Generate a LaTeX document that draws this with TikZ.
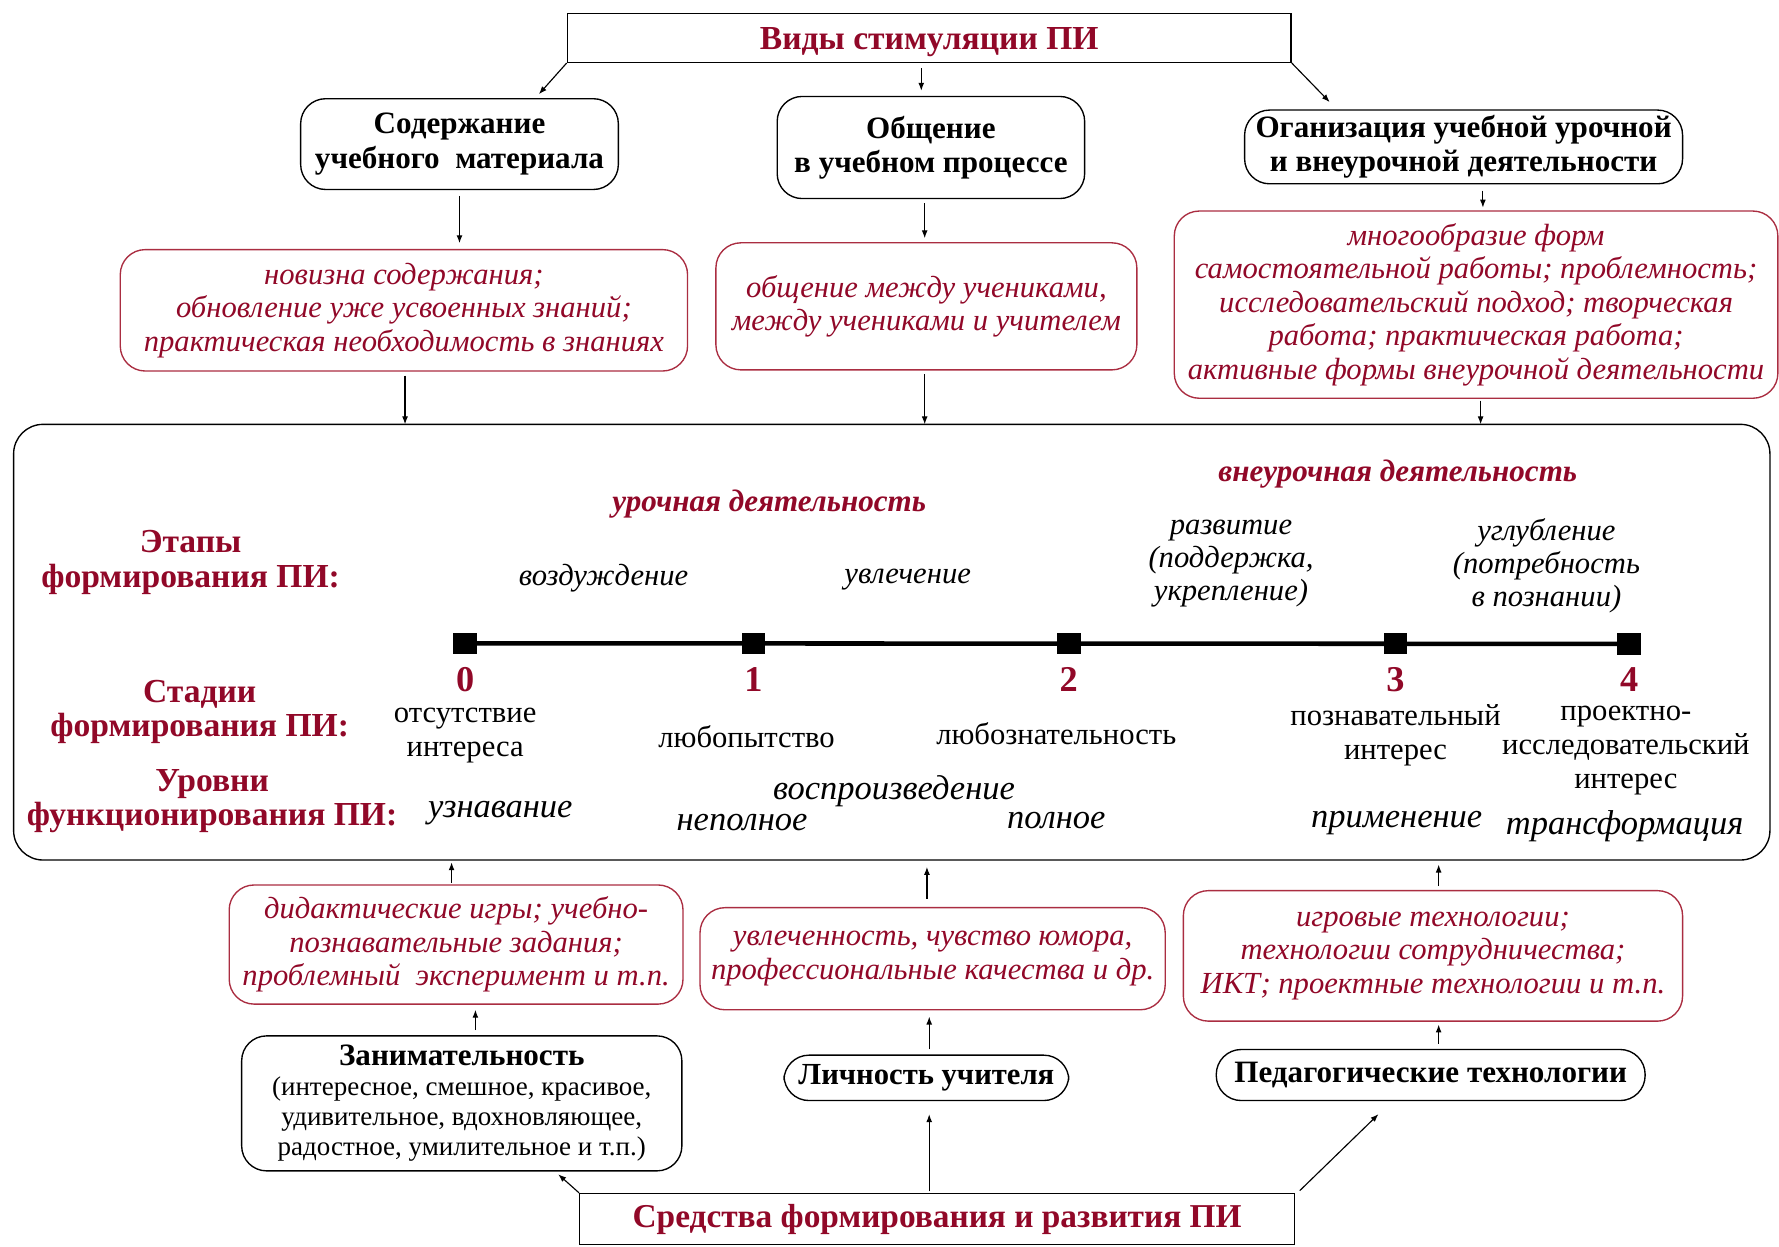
\documentclass[tikz,border=0pt]{standalone}
\usepackage{fontspec}
\setmainfont{Liberation Serif}
\usetikzlibrary{arrows.meta,calc}
\definecolor{dred}{RGB}{145,8,40}
\definecolor{bred}{RGB}{170,45,65}
\begin{document}
\begin{tikzpicture}[x=0.5pt,y=-0.5pt,
  arr/.style={-{Latex[length=3.5pt,width=2.6pt]},line width=0.5pt},
  blk/.style={draw=black,line width=0.6pt,rounded corners=11pt,inner sep=0pt,align=center,font=\fontsize{13.7}{15.2}\selectfont\bfseries},
  rbx/.style={draw=bred,line width=0.6pt,rounded corners=11pt,inner sep=0pt,align=center,text=dred,font=\fontsize{13.5}{14.8}\selectfont\itshape},
  ttl/.style={draw=black,line width=0.6pt,inner sep=0pt,text=dred,font=\fontsize{14.8}{18}\selectfont\bfseries},
  lbl/.style={text=dred,align=center,inner sep=0pt,font=\fontsize{14.8}{15.3}\selectfont\bfseries},
  itx/.style={align=center,inner sep=0pt,font=\fontsize{13.5}{14.6}\selectfont\itshape},
  itl/.style={align=center,inner sep=0pt,font=\fontsize{15.2}{16}\selectfont\itshape},
  rtx/.style={align=center,inner sep=0pt,font=\fontsize{13.5}{14.8}\selectfont},
  num/.style={text=dred,inner sep=0pt,font=\fontsize{16}{18}\selectfont\bfseries},
  act/.style={text=dred,inner sep=0pt,font=\fontsize{13.7}{16}\selectfont\bfseries\itshape},
  sq/.style={fill=black,draw=black,minimum width=10pt,minimum height=9pt,inner sep=0pt}]
\useasboundingbox (0,0) rectangle (1568,1099);

% top
\node[ttl,minimum width=319pt,minimum height=21.5pt,text height=9.8pt,text depth=0pt] (top) at (819,33.5) {Виды стимуляции ПИ};
\node[blk,minimum width=140pt,minimum height=40pt] (b1) at (405,127) {Содержание\\учебного\ \ материала};
\node[blk,minimum width=135.5pt,minimum height=45pt] (b2) at (820.5,130) {Общение\\в учебном процессе};
\node[blk,minimum width=193pt,minimum height=32.5pt] (b3) at (1290,129.5) {Оганизация учебной урочной\\и внеурочной деятельности};

\node[rbx,minimum width=250pt,minimum height=53.5pt] (r1) at (356,273.5) {новизна содержания;\\обновление уже усвоенных знаний;\\практическая необходимость в знаниях};
\node[rbx,minimum width=185.5pt,minimum height=56pt] (r2) at (816.5,270) {общение между учениками,\\между учениками и учителем};
\node[rbx,minimum width=266pt,minimum height=82.5pt] (r3) at (1301,268.5) {многообразие форм\\самостоятельной работы; проблемность;\\исследовательский подход; творческая\\работа; практическая работа;\\активные формы внеурочной деятельности};

\coordinate (t1) at (475,83);
\coordinate (t3) at (1172,90);
\draw[arr] (top.south west) -- (t1);
\draw[arr,shorten <=2.5pt,shorten >=2.5pt] (812,55) -- (812,85);
\draw[arr] (top.south east) -- (t3);
\draw[arr,shorten <=2.5pt,shorten >=2.5pt] (b1.south) -- (b1.south |- r1.north);
\draw[arr,shorten <=2pt,shorten >=2pt] (815,175) -- (815,214);
\draw[arr,shorten <=3pt,shorten >=1.5pt] (1307,162) -- (1307,186);

% big box
\node[draw=black,line width=0.6pt,rounded corners=13pt,minimum width=774pt,minimum height=192pt,inner sep=0pt] (big) at (786,566) {};
\draw[arr,shorten <=2pt] (357,327) -- (357,374);
\draw[arr,shorten <=2pt] (815,326) -- (815,374);
\draw[arr,shorten <=1pt] (1305,351) -- (1305,374);

% inside
\node[act] (uro) at (678,444) {урочная деятельность};
\node[act] (vne) at (1232,418) {внеурочная деятельность};
\node[lbl] (etap) at (168,496) {Этапы\\формирования ПИ:};
\node[itx] (e1) at (532,510) {воздуждение};
\node[itx] (e2) at (800,511) {увлечение};
\node[itx] (e3) at (1085,497) {развитие\\(поддержка,\\укрепление)};
\node[itx] (e4) at (1363,498.5) {углубление\\(потребность\\в познании)};

\node[sq] (s0) at (410,567) {};
\node[sq] (s1) at (664,567) {};
\node[sq] (s2) at (942,567) {};
\node[sq] (s3) at (1230,567) {};
\node[sq] (s4) at (1436,567.5) {};
\draw[line width=2pt] (s0.center) -- (s4.center);
\node[num] (n0) at (410,599) {0};
\node[num] (n1) at (664,599) {1};
\node[num] (n2) at (942,599) {2};
\node[num] (n3) at (1230,599) {3};
\node[num] (n4) at (1436,599) {4};

\node[lbl] (stad) at (176,627.5) {Стадии\\формирования ПИ:};
\node[rtx] (c0) at (410,648.5) {отсутствие\\интереса};
\node[rtx] (c1) at (658,649) {любопытство};
\node[rtx] (c2) at (931,647) {любознательность};
\node[rtx] (c3) at (1230,648) {познавательный\\интерес};
\node[rtx] (c4) at (1433,661.5) {проектно-\\исследовательский\\интерес};

\node[lbl] (urov) at (187,706) {Уровни\\функционирования ПИ:};
\node[itl] (u0) at (441,717) {узнавание};
\node[itl] (u1) at (788,697) {воспроизведение};
\node[itl] (u2) at (654,725) {неполное};
\node[itl] (u3) at (931,723) {полное};
\node[itl] (u4) at (1231,725) {применение};
\node[itl] (u5) at (1432,728) {трансформация};

% bottom
\node[rbx,minimum width=200pt,minimum height=52.5pt] (d1) at (402,832.5) {дидактические игры; учебно-\\познавательные задания;\\проблемный\ \ эксперимент и т.п.};
\node[rbx,minimum width=205pt,minimum height=45pt] (d2) at (822,845) {увлеченность, чувство юмора,\\профессиональные качества и др.};
\node[rbx,minimum width=220pt,minimum height=57.5pt] (d3) at (1263,842.5) {игровые технологии;\\технологии сотрудничества;\\ИКТ; проектные технологии и т.п.};

\node[blk,minimum width=194pt,minimum height=59.5pt,font=\fontsize{13.7}{13.2}\selectfont\bfseries] (k1) at (407,972.5) {Занимательность\\{\mdseries\fontsize{11.9}{13.2}\selectfont (интересное, смешное, красивое,}\\{\mdseries\fontsize{11.9}{13.2}\selectfont удивительное, вдохновляющее,}\\{\mdseries\fontsize{11.9}{13.2}\selectfont радостное, умилительное и т.п.)}};
\node[blk,minimum width=125.5pt,minimum height=20pt,font=\fontsize{13.5}{15}\selectfont\bfseries] (k2) at (816.5,950) {Личность учителя};
\node[blk,minimum width=189pt,minimum height=22.5pt] (k3) at (1261,947.5) {Педагогические технологии};

\node[ttl,minimum width=315pt,minimum height=22.5pt,font=\fontsize{14.7}{17}\selectfont\bfseries] (bot) at (826,1074.5) {Средства формирования и развития ПИ};

\draw[arr,shorten <=1pt,shorten >=1pt] (398,780) -- (398,758);
\draw[arr,shorten <=4pt,shorten >=3pt] (817,800) -- (817,758);
\draw[arr,shorten <=2pt,shorten >=2pt] (1268,785) -- (1268,758);
\draw[arr,shorten <=2.5pt,shorten >=2.5pt] (419,913) -- (419,885);
\draw[arr,shorten <=2.5pt,shorten >=3pt] (819,930) -- (819,890);
\draw[arr,shorten <=2.5pt,shorten >=1.5pt] (1268,925) -- (1268,900);

\coordinate (q1) at (492,1035);
\coordinate (q3) at (1215,982);
\draw[arr] (bot.north west) -- (q1);
\draw[arr,shorten <=1pt,shorten >=6pt] (819,1052) -- (819,970);
\draw[arr] ($(bot.north east)+(4,-2)$) -- (q3);
\end{tikzpicture}
\end{document}
